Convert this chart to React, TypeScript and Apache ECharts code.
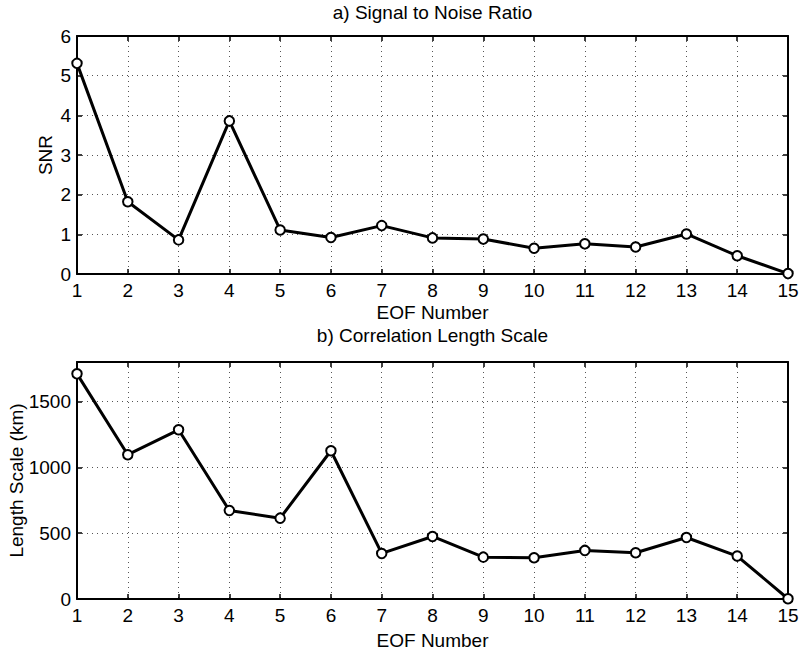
import React, { useEffect, useRef } from "react";
import * as echarts from "echarts";

const eofNumbers = [1, 2, 3, 4, 5, 6, 7, 8, 9, 10, 11, 12, 13, 14, 15];
const snrValues = [5.31, 1.82, 0.86, 3.86, 1.11, 0.92, 1.22, 0.91, 0.88, 0.65, 0.76, 0.68, 1.01, 0.46, 0.01];
const lengthScaleValues = [1710, 1096, 1285, 672, 614, 1126, 346, 475, 318, 313, 369, 351, 467, 326, 2];

const titleA = "a) Signal to Noise Ratio";
const titleB = "b) Correlation Length Scale";
const xName = "EOF Number";
const yNameA = "SNR";
const yNameB = "Length Scale (km)";

const FONT = "'Liberation Sans', Arial, Helvetica, sans-serif";
const FS = 19;

export default function App() {
  const ref = useRef<HTMLDivElement>(null);
  useEffect(() => {
    if (!ref.current) return;
    const chart = echarts.init(ref.current, undefined, { renderer: "svg" });

    const axisLine = { show: true, onZero: false, lineStyle: { color: "#000", width: 2 } };
    const tick = { show: true, inside: true, length: 5, lineStyle: { color: "#000", width: 1.5 } };
    const grid = { show: true, lineStyle: { color: "#555", width: 1, type: [1, 4] as any } };
    const label = { color: "#000", fontSize: FS, fontFamily: FONT, lineHeight: 20 };

    const mkX = (gi: number) => [
      {
        type: "value", gridIndex: gi, position: "bottom", min: 1, max: 15, interval: 1,
        axisLine, axisTick: tick, splitLine: grid,
        axisLabel: { ...label, margin: 6 },
        name: xName, nameLocation: "middle", nameGap: gi === 0 ? 28 : 31,
        nameMoveOverlap: false,
        nameTextStyle: { color: "#000", fontSize: FS, fontFamily: FONT, lineHeight: 20 },
      },
      {
        type: "value", gridIndex: gi, position: "top", min: 1, max: 15, interval: 1,
        axisLine, axisTick: tick, splitLine: { show: false }, axisLabel: { show: false },
      },
    ];
    const mkY = (gi: number, max: number, interval: number, name: string, nameGap: number, hideMax: boolean) => [
      {
        type: "value", gridIndex: gi, position: "left", min: 0, max, interval,
        axisLine, axisTick: tick, splitLine: grid,
        axisLabel: {
          ...label, margin: 6,
          formatter: (v: number) => (hideMax && v === max ? "" : String(v)),
        },
        name, nameLocation: "middle", nameGap,
        nameMoveOverlap: false,
        nameTextStyle: { color: "#000", fontSize: FS, fontFamily: FONT },
      },
      {
        type: "value", gridIndex: gi, position: "right", min: 0, max, interval,
        axisLine, axisTick: tick, splitLine: { show: false }, axisLabel: { show: false },
      },
    ];

    const seriesStyle = {
      type: "line",
      symbol: "emptyCircle",
      symbolSize: 9.5,
      clip: false,
      lineStyle: { color: "#000", width: 3 },
      itemStyle: { color: "#000", borderColor: "#000", borderWidth: 3.5 },
    };

    chart.setOption({
      animation: false,
      backgroundColor: "#fff",
      textStyle: { fontFamily: FONT },
      title: [
        { text: titleA, left: 432.5, top: 3, textAlign: "center", padding: 0,
          textStyle: { color: "#000", fontSize: FS, fontWeight: "normal", fontFamily: FONT } },
        { text: titleB, left: 432.5, top: 326, textAlign: "center", padding: 0,
          textStyle: { color: "#000", fontSize: FS, fontWeight: "normal", fontFamily: FONT } },
      ],
      grid: [
        { left: 77, right: 13, top: 36, height: 238, outerBoundsMode: "none", containLabel: false },
        { left: 77, right: 13, top: 362, height: 237, outerBoundsMode: "none", containLabel: false },
      ],
      xAxis: [...mkX(0), ...mkX(1)],
      yAxis: [...mkY(0, 6, 1, yNameA, 22, false), ...mkY(1, 1800, 500, yNameB, 51, true)],
      series: [
        { ...seriesStyle, xAxisIndex: 0, yAxisIndex: 0,
          data: eofNumbers.map((x, i) => [x, snrValues[i]]) },
        { ...seriesStyle, xAxisIndex: 2, yAxisIndex: 2,
          data: eofNumbers.map((x, i) => [x, lengthScaleValues[i]]) },
      ],
    });
    return () => chart.dispose();
  }, []);
  return <div ref={ref} style={{ position: "fixed", left: 0, top: 0, width: 801, height: 652 }} />;
}
